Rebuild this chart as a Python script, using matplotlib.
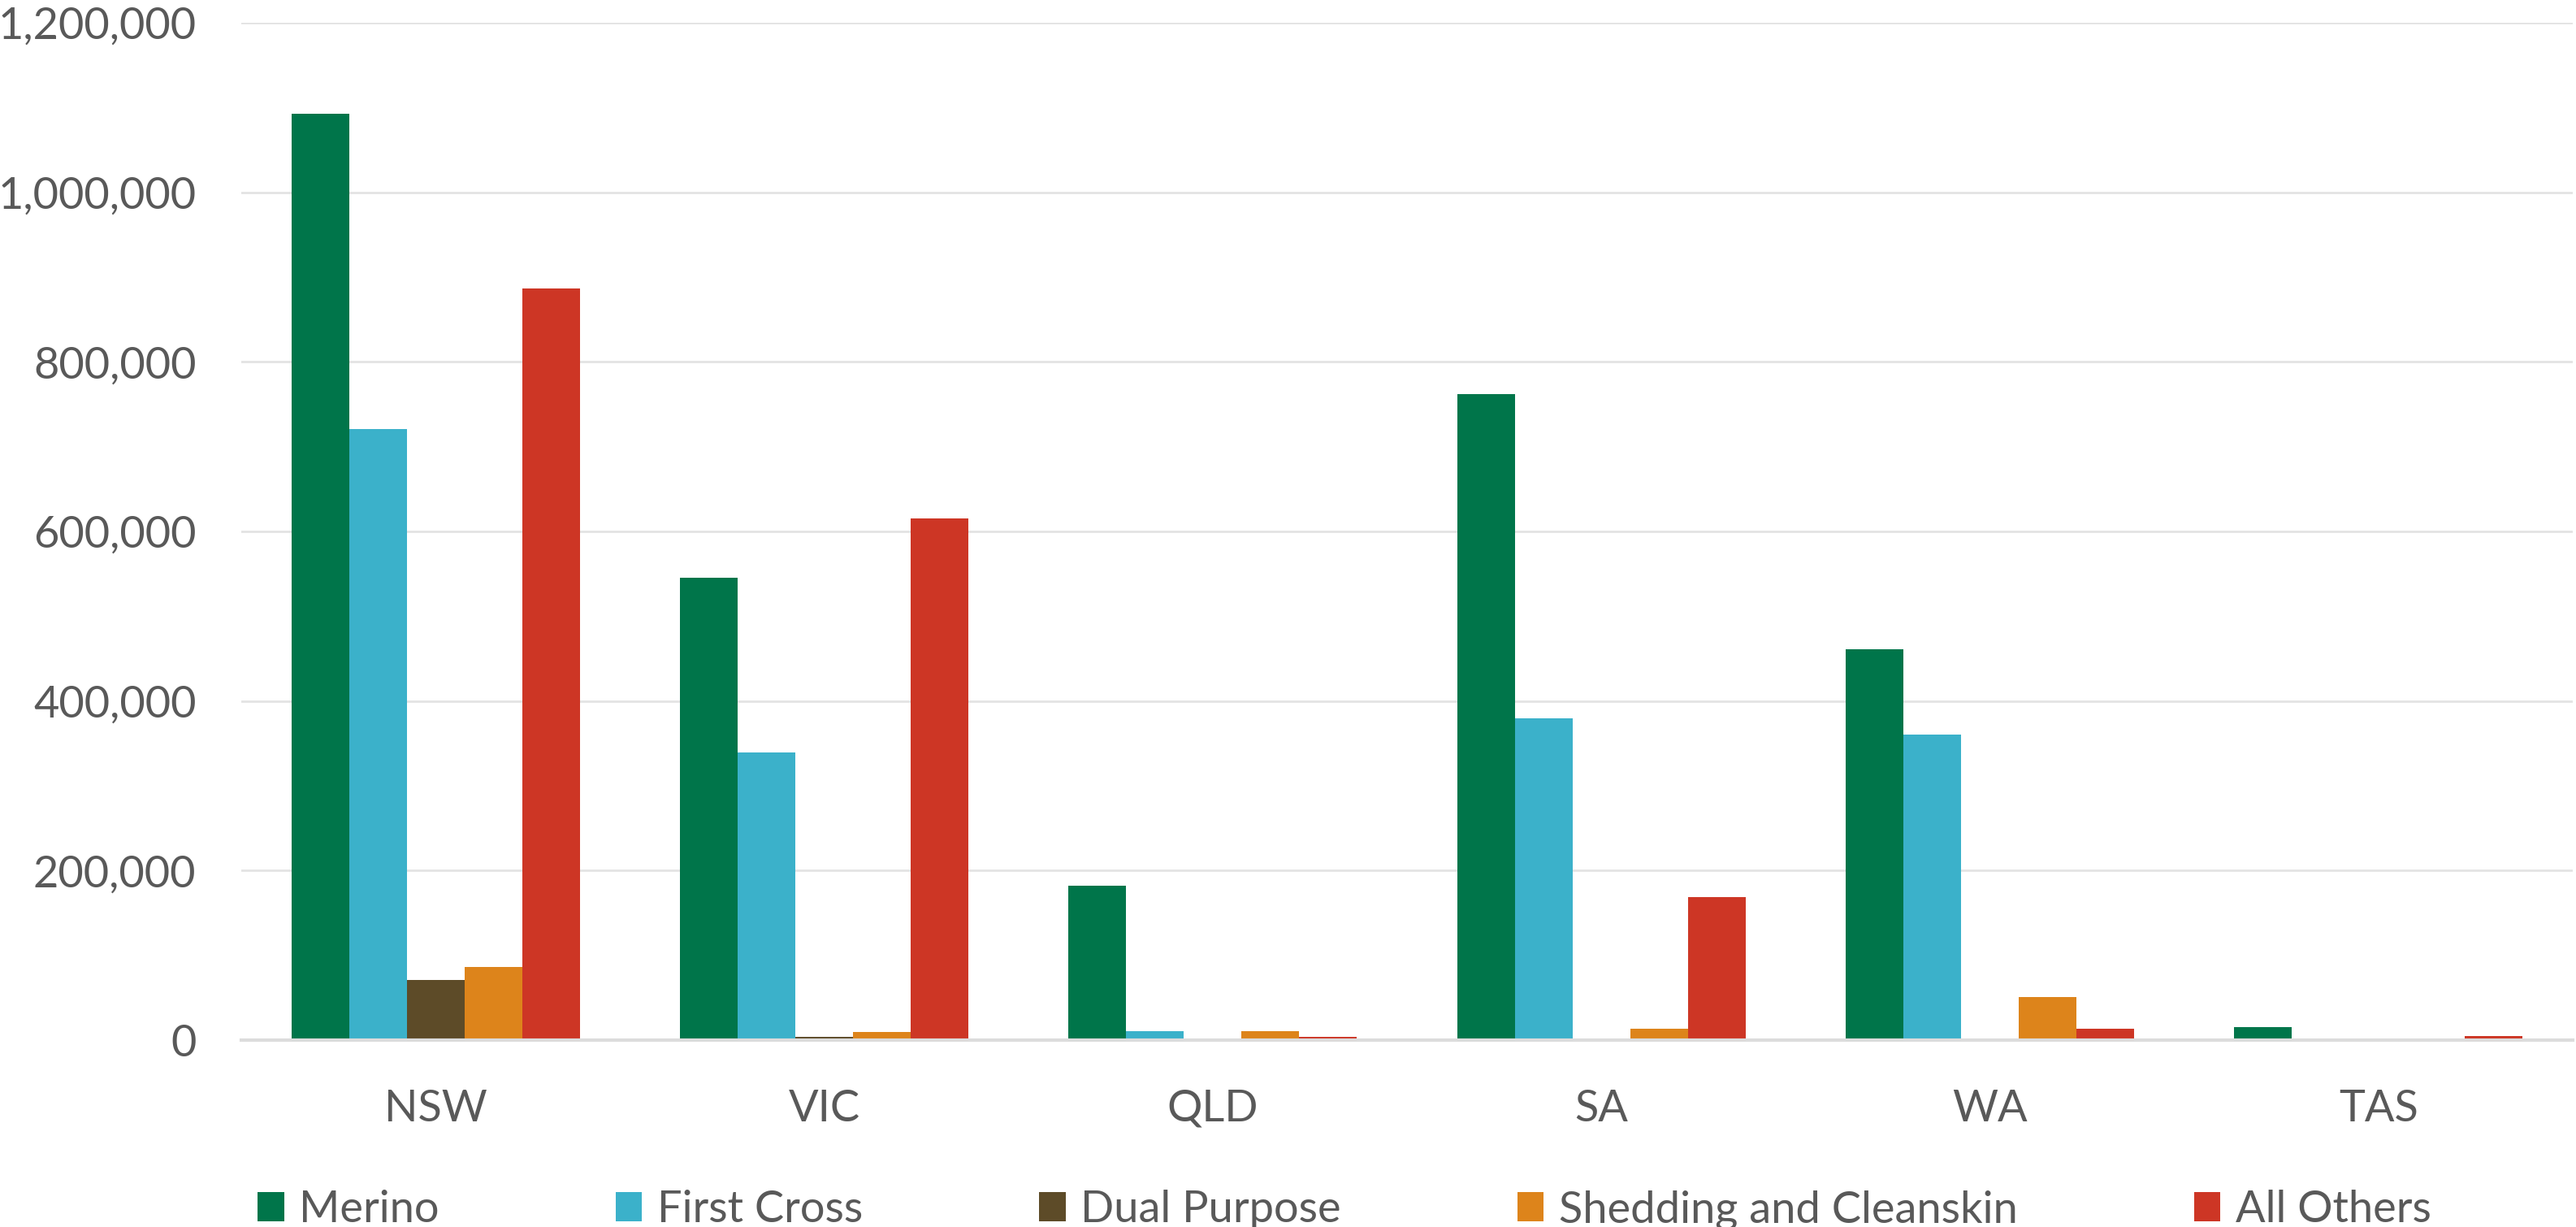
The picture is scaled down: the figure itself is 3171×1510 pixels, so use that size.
import numpy as np
import matplotlib
matplotlib.use('Agg')
from matplotlib import pyplot as plt
from matplotlib.ticker import FuncFormatter

states = ['NSW', 'VIC', 'QLD', 'SA', 'WA', 'TAS']
series_names = ['Merino', 'First Cross', 'Dual Purpose', 'Shedding and Cleanskin', 'All Others']
merino = [1093000, 545000, 182000, 762000, 461000, 15500]
first_cross = [721000, 339000, 10500, 380000, 360000, 0]
dual_purpose = [71000, 3500, 0, 1000, 0, 0]
shedding = [86000, 9600, 11000, 13400, 51000, 0]
all_others = [887000, 615000, 3500, 169000, 13400, 4500]
colors = ['#00754A', '#3BB1CA', '#5D4B28', '#DD841B', '#CD3625']

plt.rcParams['font.family'] = ['Lato', 'DejaVu Sans']
fig = plt.figure(figsize=(31.71, 15.10), dpi=100)
ax = fig.add_axes([297/3171, 230/1510, 2870/3171, 1252/1510])

data = [merino, first_cross, dual_purpose, shedding, all_others]
x = np.arange(len(states))
w = 0.1484
for i, (vals, name, c) in enumerate(zip(data, series_names, colors)):
    ax.bar(x + (i - 2) * w, vals, w, color=c, label=name, zorder=3)

ax.set_xlim(-0.5, len(states) - 0.5)
ax.set_ylim(0, 1200000)
ax.set_yticks(np.arange(0, 1200001, 200000))
ax.yaxis.set_major_formatter(FuncFormatter(lambda v, p: f'{int(v):,}'))
ax.set_xticks(x)
ax.set_xticklabels(states)
ax.grid(axis='y', color='#E3E3E3', linewidth=2, zorder=0)
for s in ['top', 'right', 'left']:
    ax.spines[s].set_visible(False)
ax.spines['bottom'].set_color('#DCDCDC')
ax.spines['bottom'].set_linewidth(3)
ax.spines['bottom'].set_zorder(4)
ax.tick_params(axis='both', length=0, labelsize=39, colors='#595959')
ax.tick_params(axis='y', pad=40)
ax.tick_params(axis='x', pad=43)

fig.legend(loc='center left', bbox_to_anchor=(317/3171, 1 - 1489/1510), ncol=5,
           frameon=False, fontsize=39, labelcolor='#595959', borderpad=0, borderaxespad=0,
           handlelength=0.6, handleheight=0.65, handletextpad=0.35, columnspacing=4.0)

plt.savefig('out.png', dpi=100)
